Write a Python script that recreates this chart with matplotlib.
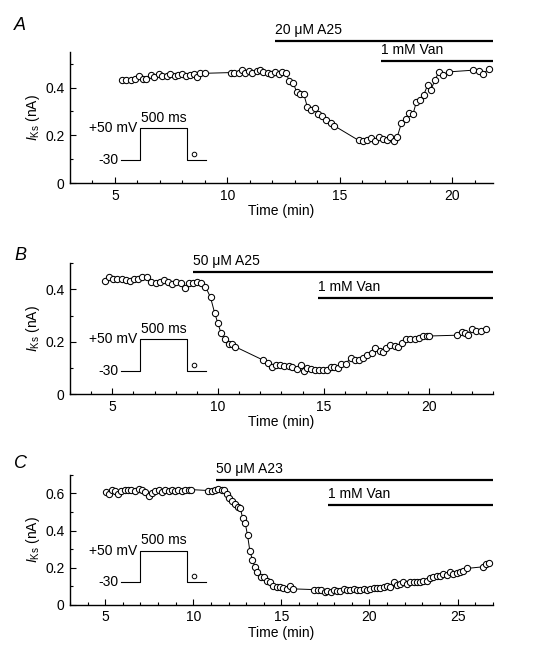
import numpy as np
import matplotlib
matplotlib.use("Agg")
import matplotlib.pyplot as plt
from matplotlib.ticker import MultipleLocator

plt.rcParams['font.family'] = ['Liberation Sans', 'DejaVu Sans']
plt.rcParams['mathtext.fontset'] = 'custom'
plt.rcParams['mathtext.rm'] = 'Liberation Sans'
plt.rcParams['mathtext.it'] = 'Liberation Sans:italic'
plt.rcParams['font.size'] = 10

# ---- panel A: 20 uM A25, then 1 mM Van ----
time_a = [5.30, 5.50, 5.70, 5.90, 6.05, 6.25, 6.40, 6.60, 6.75, 6.95, 7.10,
          7.30, 7.45, 7.65, 7.80, 8.00, 8.15, 8.35, 8.50, 8.65, 8.80, 9.00,
          10.15, 10.30, 10.50, 10.65, 10.80, 10.95, 11.10, 11.30, 11.45, 11.60,
          11.80, 11.95, 12.10, 12.30, 12.45,
          12.60, 12.75, 12.93, 13.08, 13.23, 13.40, 13.55, 13.70, 13.90, 14.04,
          14.20, 14.40, 14.60, 14.75,
          15.83, 16.04, 16.19, 16.38, 16.56, 16.73, 16.93, 17.10, 17.25, 17.40,
          17.55, 17.74, 17.92, 18.08, 18.26, 18.40, 18.58, 18.73, 18.90, 19.04,
          19.22, 19.40, 19.59, 19.85,
          20.92, 21.17, 21.36, 21.61]
iks_a = [0.430, 0.432, 0.433, 0.436, 0.447, 0.436, 0.438, 0.452, 0.443, 0.455, 0.450,
         0.450, 0.457, 0.450, 0.452, 0.455, 0.450, 0.452, 0.458, 0.446, 0.460, 0.460,
         0.463, 0.463, 0.460, 0.472, 0.460, 0.468, 0.463, 0.470, 0.472, 0.465,
         0.460, 0.455, 0.465, 0.455, 0.465,
         0.462, 0.428, 0.420, 0.380, 0.375, 0.372, 0.320, 0.305, 0.316, 0.290,
         0.280, 0.266, 0.250, 0.240,
         0.179, 0.175, 0.179, 0.189, 0.176, 0.193, 0.185, 0.182, 0.193, 0.175,
         0.193, 0.252, 0.270, 0.294, 0.291, 0.340, 0.347, 0.370, 0.410, 0.389,
         0.430, 0.466, 0.452, 0.466,
         0.473, 0.470, 0.459, 0.476]

# ---- panel B: 50 uM A25, then 1 mM Van ----
time_b = [4.65, 4.84, 5.05, 5.24, 5.44, 5.63, 5.83, 6.02, 6.22, 6.43, 6.65,
          6.85, 7.06, 7.25, 7.43, 7.64, 7.84, 8.03, 8.23, 8.42, 8.63, 8.81,
          9.00, 9.21, 9.41,
          9.65, 9.84, 10.00, 10.15, 10.34, 10.51, 10.65, 10.82,
          12.14, 12.35, 12.55, 12.74, 12.93, 13.13, 13.34, 13.52, 13.73, 13.95,
          14.07, 14.23, 14.42, 14.59, 14.78, 14.97, 15.17, 15.33, 15.49, 15.67,
          15.80, 16.04, 16.27, 16.48, 16.66, 16.87, 17.06, 17.29, 17.45, 17.65,
          17.79, 17.95, 18.16, 18.36, 18.52, 18.70, 18.89, 19.10, 19.30, 19.49,
          19.68, 19.88, 19.99,
          21.30, 21.53, 21.69, 21.84, 22.00, 22.20, 22.43, 22.66]
iks_b = [0.433, 0.448, 0.438, 0.438, 0.438, 0.436, 0.432, 0.438, 0.438, 0.446, 0.446,
         0.429, 0.425, 0.429, 0.436, 0.429, 0.420, 0.428, 0.423, 0.404, 0.423, 0.423,
         0.429, 0.423, 0.410,
         0.369, 0.311, 0.270, 0.232, 0.209, 0.191, 0.190, 0.181,
         0.130, 0.120, 0.104, 0.113, 0.111, 0.108, 0.107, 0.104, 0.098, 0.110,
         0.089, 0.100, 0.096, 0.094, 0.094, 0.094, 0.094, 0.104, 0.104, 0.100,
         0.117, 0.115, 0.139, 0.130, 0.130, 0.139, 0.149, 0.158, 0.175, 0.164,
         0.162, 0.178, 0.187, 0.183, 0.181, 0.196, 0.209, 0.209, 0.209, 0.213,
         0.222, 0.222, 0.222,
         0.225, 0.238, 0.232, 0.225, 0.247, 0.241, 0.241, 0.247]

# ---- panel C: 50 uM A23, then 1 mM Van ----
time_c = [5.02, 5.20, 5.40, 5.58, 5.73, 5.92, 6.11, 6.30, 6.49, 6.68, 6.90,
          7.09, 7.28, 7.47, 7.66, 7.84, 8.03, 8.22, 8.41, 8.60, 8.79, 8.97,
          9.16, 9.35, 9.54, 9.73, 9.88,
          10.86, 11.05, 11.23, 11.42, 11.61, 11.76, 11.91, 12.04, 12.19, 12.36,
          12.51, 12.66, 12.80, 12.95, 13.08, 13.21, 13.36, 13.49, 13.64, 13.83,
          14.02, 14.21, 14.36, 14.55, 14.74, 14.92, 15.11, 15.30, 15.49, 15.68,
          16.88, 17.07, 17.26, 17.45, 17.60, 17.79, 17.98, 18.16, 18.35, 18.54,
          18.73, 18.92, 19.11, 19.29, 19.48, 19.67, 19.86, 20.05, 20.24, 20.42,
          20.61, 20.80, 20.99, 21.18, 21.37, 21.55, 21.74, 21.93, 22.12, 22.31,
          22.50, 22.68, 22.87, 23.06, 23.25, 23.44, 23.63, 23.81, 24.00, 24.19,
          24.38, 24.57, 24.76, 24.94, 25.13, 25.32, 25.51,
          26.45, 26.60, 26.79]
iks_c = [0.607, 0.595, 0.618, 0.612, 0.595, 0.616, 0.618, 0.621, 0.621, 0.612, 0.625,
         0.618, 0.607, 0.586, 0.604, 0.612, 0.618, 0.607, 0.621, 0.612, 0.621, 0.612,
         0.618, 0.612, 0.621, 0.618, 0.621,
         0.616, 0.612, 0.621, 0.625, 0.621, 0.618, 0.595, 0.577, 0.559, 0.541,
         0.529, 0.523, 0.470, 0.439, 0.375, 0.291, 0.243, 0.205, 0.175, 0.148,
         0.148, 0.130, 0.121, 0.104, 0.098, 0.095, 0.089, 0.086, 0.100, 0.086,
         0.082, 0.080, 0.080, 0.071, 0.077, 0.071, 0.080, 0.077, 0.077, 0.086,
         0.080, 0.082, 0.086, 0.082, 0.080, 0.086, 0.082, 0.086, 0.089, 0.089,
         0.093, 0.095, 0.104, 0.095, 0.125, 0.107, 0.113, 0.121, 0.113, 0.125,
         0.121, 0.125, 0.125, 0.127, 0.130, 0.143, 0.148, 0.157, 0.154, 0.166,
         0.161, 0.175, 0.166, 0.171, 0.179, 0.184, 0.196,
         0.205, 0.220, 0.223]

panels = [
    dict(label='A', t=time_a, y=iks_a, xlim=(3, 21.8), ylim=(0, 0.55),
         yticks=[0, 0.2, 0.4], drug='20 \u03bcM A25', drug_t=12.1, drug_y=0.597,
         van_t=16.85, van_y=0.513, bottom=0.721, height=0.200, letter_y=25),
    dict(label='B', t=time_b, y=iks_b, xlim=(3, 23), ylim=(0, 0.5),
         yticks=[0, 0.2, 0.4], drug='50 \u03bcM A25', drug_t=8.81, drug_y=0.4675,
         van_t=14.75, van_y=0.367, bottom=0.399, height=0.200, letter_y=255),
    dict(label='C', t=time_c, y=iks_c, xlim=(3, 27), ylim=(0, 0.7),
         yticks=[0, 0.2, 0.4, 0.6], drug='50 \u03bcM A23', drug_t=11.29, drug_y=0.673,
         van_t=17.64, van_y=0.539, bottom=0.078, height=0.198, letter_y=463),
]

# voltage protocol sketch, axes fractions
prot_x = [0.12, 0.165, 0.165, 0.276, 0.276, 0.321]
prot_y = [0.178, 0.178, 0.418, 0.418, 0.178, 0.178]

fig = plt.figure(figsize=(5.38, 6.56), dpi=100)

for p in panels:
    ax = fig.add_axes([0.130, p['bottom'], 0.786, p['height']])
    ax.plot(p['t'], p['y'], '-', color='black', lw=0.7, marker='o', ms=4.5,
            mfc='white', mec='black', mew=0.75)
    ax.set_xlim(*p['xlim'])
    ax.set_ylim(*p['ylim'])
    ax.set_yticks(p['yticks'])
    ax.set_yticklabels(['0' if v == 0 else f'{v:.1f}' for v in p['yticks']])
    ax.xaxis.set_major_locator(MultipleLocator(5))
    ax.xaxis.set_minor_locator(MultipleLocator(1))
    ax.yaxis.set_minor_locator(MultipleLocator(0.1))
    for s in ['top', 'right']:
        ax.spines[s].set_visible(False)
    for s in ['left', 'bottom']:
        ax.spines[s].set_linewidth(1.0)
    ax.tick_params(which='major', direction='in', length=4, width=0.8, labelsize=10, pad=4)
    ax.tick_params(which='minor', direction='in', length=2.5, width=0.8)
    ax.set_xlabel('Time (min)', fontsize=10, labelpad=1)
    ax.set_ylabel(r'$I_{\mathrm{Ks}}$ (nA)', fontsize=10, labelpad=2)

    # drug application bars
    x1 = p['xlim'][1]
    for t0, yb, txt in [(p['drug_t'], p['drug_y'], p['drug']),
                        (p['van_t'], p['van_y'], '1 mM Van')]:
        ax.plot([t0, x1], [yb, yb], color='black', lw=1.6, clip_on=False,
                solid_capstyle='butt')
        ax.annotate(txt, (t0, yb), xytext=(0, 2.5), textcoords='offset points',
                    ha='left', va='bottom', fontsize=10, annotation_clip=False)

    # protocol inset
    ax.plot(prot_x, prot_y, color='black', lw=0.8, transform=ax.transAxes)
    ax.plot([0.293], [0.222], 'o', ms=3.3, mfc='white', mec='black', mew=0.7,
            transform=ax.transAxes)
    ax.text(0.114, 0.178, '-30', transform=ax.transAxes, ha='right', va='center',
            fontsize=10)
    ax.text(0.160, 0.418, '+50 mV', transform=ax.transAxes, ha='right', va='center',
            fontsize=10)
    ax.text(0.221, 0.445, '500 ms', transform=ax.transAxes, ha='center', va='bottom',
            fontsize=10)

    fig.text(0.026, 1 - p['letter_y'] / 656, p['label'], style='italic',
             fontsize=13, va='center', ha='left')

fig.savefig('out.png', dpi=100)
